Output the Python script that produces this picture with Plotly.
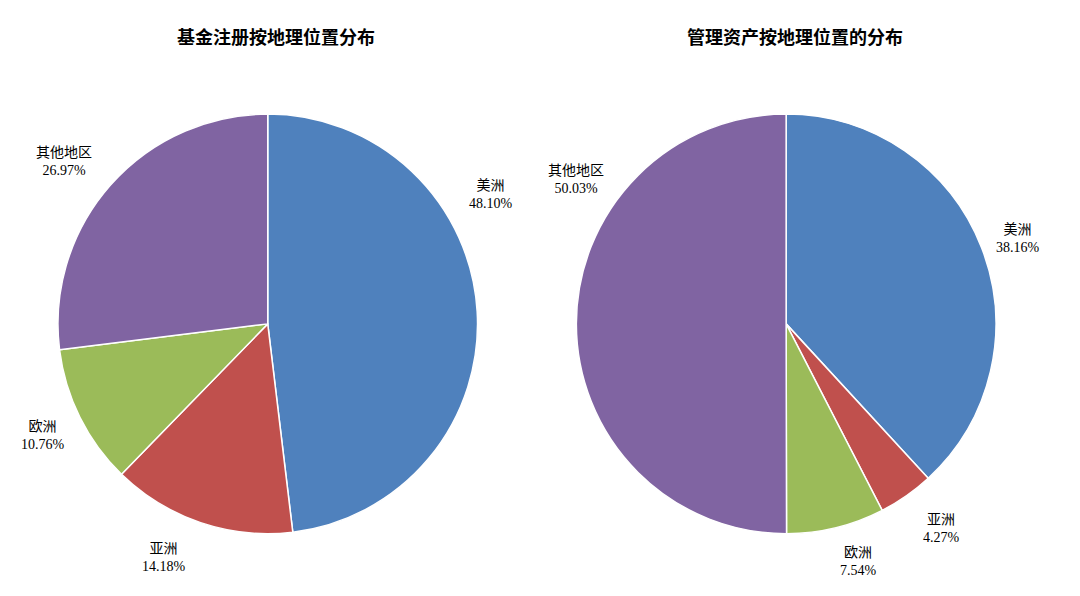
import plotly.graph_objects as go

regions = ["美洲", "亚洲", "欧洲", "其他地区"]
fund_share = [48.10, 14.18, 10.76, 26.97]
aum_share = [38.16, 4.27, 7.54, 50.03]
colors = ["#4F81BD", "#C0504D", "#9BBB59", "#8064A2"]
titles = ["基金注册按地理位置分布", "管理资产按地理位置的分布"]

# label anchor points (pixels from top-left), as placed in the source chart
fund_label_px = [(483, 186), (156, 549), (35, 427), (56, 153)]
aum_label_px = [(1010, 230), (933, 520), (850, 553), (568, 171)]

W, H = 1080, 596
font = "Liberation Serif, Noto Sans CJK SC"

fig = go.Figure()
for vals, dom, pos in [(fund_share, [0.046, 0.435], fund_label_px),
                       (aum_share, [0.526, 0.915], aum_label_px)]:
    fig.add_trace(go.Pie(
        labels=regions, values=vals, sort=False, direction="clockwise", rotation=0,
        marker=dict(colors=colors, line=dict(color="white", width=1.5)),
        textinfo="none",
        domain=dict(x=dom, y=[0.118, 0.822]),
        showlegend=False, hoverinfo="label+percent"))
    for r, v, (px, py) in zip(regions, vals, pos):
        fig.add_annotation(x=px / W, y=1 - py / H, xref="paper", yref="paper",
                           text=f"{r}<br>{v:.2f}%", showarrow=False,
                           xanchor="center", yanchor="middle",
                           font=dict(family=font, size=14, color="black"))

for x, t in zip([0.248, 0.729], titles):
    fig.add_annotation(x=x, y=1 - 28 / H, xref="paper", yref="paper", text=f"<b>{t}</b>",
                       showarrow=False, xanchor="center", yanchor="middle",
                       font=dict(family="Noto Sans CJK SC", size=18, color="black"))

fig.update_layout(width=W, height=H, margin=dict(l=0, r=0, t=0, b=0),
                  paper_bgcolor="white")
fig.write_html("out.html")
